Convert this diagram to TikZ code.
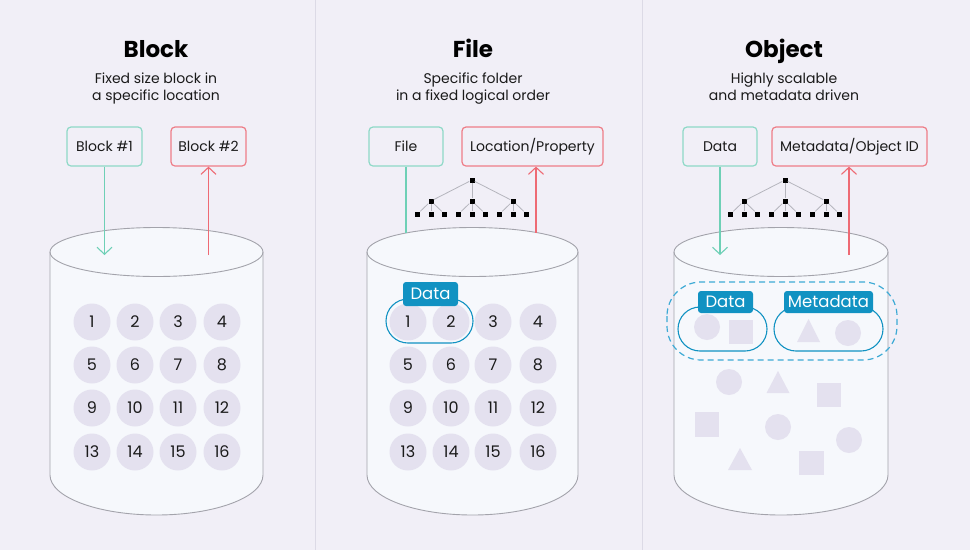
\documentclass[tikz,border=0pt]{standalone}
\usepackage{fontspec}
\setmainfont{Poppins}
\usetikzlibrary{arrows.meta}
\definecolor{bgc}{HTML}{F1EFF7}
\definecolor{sepc}{HTML}{DCDAE6}
\definecolor{cylfill}{HTML}{F6F8FC}
\definecolor{cyledge}{HTML}{A3A3AB}
\definecolor{tealc}{HTML}{8ED9C7}
\definecolor{redc}{HTML}{EE7D87}
\definecolor{tealarrow}{HTML}{6ED0B6}
\definecolor{redarrow}{HTML}{EE6A74}
\definecolor{chipc}{HTML}{E4E1EF}
\definecolor{dblue}{HTML}{1192C2}
\definecolor{dashblue}{HTML}{3DAAD5}
\definecolor{txtc}{HTML}{1A1A1A}
\definecolor{treeline}{HTML}{B5B5BD}
\newcommand{\drawcyl}[2]{%
  \fill[cylfill] (#1-#2,252) -- (#1-#2,475) arc[start angle=180,end angle=0,x radius=#2,y radius=40] -- (#1+#2,252) arc[start angle=0,end angle=-180,x radius=#2,y radius=24.5] -- cycle;
  \draw[cyledge,line width=0.9pt] (#1-#2,252) -- (#1-#2,475) arc[start angle=180,end angle=0,x radius=#2,y radius=40] -- (#1+#2,252);
  \draw[cyledge,line width=0.9pt] (#1,252) ellipse[x radius=#2,y radius=24.5];
}
\tikzset{
  titletxt/.style={anchor=base, font=\fontsize{23}{26}\selectfont\bfseries, text=black},
  subtxt/.style={anchor=base, font=\fontsize{14}{17}\selectfont, text=txtc},
  boxbase/.style={rounded corners=4pt, line width=1.2pt, minimum height=39pt, inner sep=0pt,
    text height=10.4pt, text depth=0pt, font=\fontsize{14}{16}\selectfont, text=txtc},
  greenbox/.style={boxbase, draw=tealc},
  redbox/.style={boxbase, draw=redc},
  numc/.style={circle, fill=chipc, minimum size=37pt, inner sep=0pt, font=\fontsize{16}{16}\selectfont, text=txtc},
  downarr/.style={tealarrow, line width=1.1pt, -{Straight Barb[length=7pt,width=15pt]}},
  uparr/.style={redarrow, line width=1.1pt, -{Straight Barb[length=7pt,width=15pt]}},
  plainline/.style={tealarrow, line width=1.1pt},
  treesq/.style={fill=black, minimum size=5pt, inner sep=0pt},
  treeedge/.style={treeline, line width=0.8pt},
  tagc/.style={fill=dblue, rounded corners=3pt, inner sep=0pt, text=white,
    font=\fontsize{16.5}{16.5}\selectfont, text height=11.5pt, text depth=0pt},
  grpc/.style={draw=dblue, line width=1.1pt, rounded corners=22pt},
  shapec/.style={fill=chipc},
}
\begin{document}
\begin{tikzpicture}[x=1pt,y=-1pt]
\useasboundingbox (0,0) rectangle (970,550);
\fill[bgc] (0,0) rectangle (970,550);
\draw[sepc, line width=1pt] (315,0) -- (315,550);
\draw[sepc, line width=1pt] (642,0) -- (642,550);

% ---------- Block ----------
\node[titletxt] (t1) at (156,57) {Block};
\node[subtxt] (s1a) at (156,83) {Fixed size block in};
\node[subtxt] (s1b) at (156,100) {a specific location};
\drawcyl{156.5}{106.5}
\foreach \r/\yy in {0/322,1/365,2/408,3/452}{
  \foreach \c/\xx in {1/92,2/135,3/178,4/222}{
    \pgfmathtruncatemacro{\n}{\r*4+\c}
    \node[numc] (bc\n) at (\xx,\yy) {\n};
  }
}
\node[greenbox, minimum width=75pt] (b1box) at (104.5,146.5) {Block \#1};
\node[redbox, minimum width=75pt] (b2box) at (208.5,146.5) {Block \#2};
\coordinate (b1end) at (104.5,255);
\coordinate (b2start) at (208.5,255);
\draw[downarr] (b1box.south) -- (b1end);
\draw[uparr] (b2start) -- (b2box.south);

% ---------- File ----------
\node[titletxt] (t2) at (473,57) {File};
\node[subtxt] (s2a) at (473,83) {Specific folder};
\node[subtxt] (s2b) at (473,100) {in a fixed logical order};
\drawcyl{472.5}{105.5}
\foreach \r/\yy in {0/322,1/365,2/408,3/452}{
  \foreach \c/\xx in {1/408,2/451,3/493,4/538}{
    \pgfmathtruncatemacro{\n}{\r*4+\c}
    \node[numc] (fc\n) at (\xx,\yy) {\n};
  }
}
\draw[grpc] (386,299) rectangle (473,343);
\node[tagc, minimum width=55pt, minimum height=24pt] (ftag) at (430.5,294) {Data};
\node[greenbox, minimum width=74pt] (fbox) at (406,146.5) {File};
\node[redbox, minimum width=141pt] (lbox) at (532.5,146.5) {Location/Property};
\coordinate (fend) at (406,233);
\coordinate (lstart) at (536,232.5);
\draw[plainline] (fbox.south) -- (fend);
\draw[uparr] (lstart) -- (lbox.south -| lstart);
\node[treesq] (f0) at (472,180) {};
\foreach \i/\dx in {a/-41,b/0,c/41}{
  \node[treesq] (f\i) at (472+\dx,201) {};
  \draw[treeedge] (f0) -- (f\i);
  \foreach \j/\ex in {1/-13.5,2/0,3/13.5}{
    \node[treesq] (f\i\j) at (472+\dx+\ex,214) {};
    \draw[treeedge] (f\i) -- (f\i\j);
  }
}

% ---------- Object ----------
\node[titletxt] (t3) at (784,57) {Object};
\node[subtxt] (s3a) at (784,83) {Highly scalable};
\node[subtxt] (s3b) at (784,100) {and metadata driven};
\drawcyl{781}{107}
% loose objects
\fill[shapec] (729,382) circle (13);
\fill[shapec] (778,371) -- (789.5,393) -- (766.5,393) -- cycle;
\fill[shapec] (817,383) rectangle (841,407);
\fill[shapec] (695,412) rectangle (719,437);
\fill[shapec] (778,427) circle (13);
\fill[shapec] (849,440) circle (13);
\fill[shapec] (740,448) -- (752,470) -- (728,470) -- cycle;
\fill[shapec] (799,451) rectangle (824,475);
% grouped objects
\fill[shapec] (707,327) circle (13);
\fill[shapec] (728.5,320) rectangle (752.5,344);
\fill[shapec] (808.5,319) -- (820,342) -- (797,342) -- cycle;
\fill[shapec] (848,333) circle (13);
\draw[grpc] (678,307) rectangle (767,351);
\draw[grpc] (774,307) rectangle (883,351);
\draw[dashblue, line width=1.2pt, dash pattern=on 6pt off 4pt, rounded corners=34pt] (667,282) rectangle (897,360);
\node[tagc, minimum width=55pt, minimum height=22pt] (otag1) at (725.5,302) {Data};
\node[tagc, minimum width=89pt, minimum height=22pt] (otag2) at (828.5,302) {Metadata};
\node[greenbox, minimum width=74pt] (dbox) at (720,146.5) {Data};
\node[redbox, minimum width=155pt] (mbox) at (849.5,146.5) {Metadata/Object ID};
\coordinate (dend) at (720,255);
\coordinate (mstart) at (849,255);
\draw[downarr] (dbox.south) -- (dend);
\draw[uparr] (mstart) -- (mbox.south -| mstart);
\node[treesq] (o0) at (785,180) {};
\foreach \i/\dx in {a/-41,b/0,c/41}{
  \node[treesq] (o\i) at (785+\dx,201) {};
  \draw[treeedge] (o0) -- (o\i);
  \foreach \j/\ex in {1/-13.5,2/0,3/13.5}{
    \node[treesq] (o\i\j) at (785+\dx+\ex,214) {};
    \draw[treeedge] (o\i) -- (o\i\j);
  }
}
\end{tikzpicture}
\end{document}
